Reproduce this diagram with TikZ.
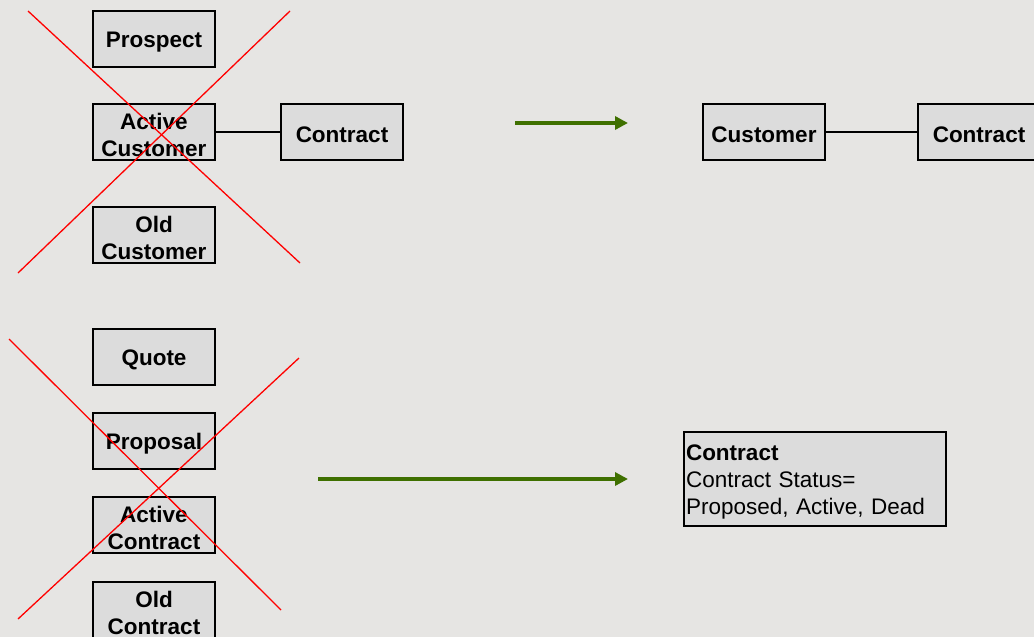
\documentclass[tikz,border=0pt]{standalone}
\usepackage{fontspec}
\setmainfont{Liberation Sans}
\usetikzlibrary{arrows.meta}
\definecolor{bg}{HTML}{E6E5E3}
\definecolor{boxfill}{HTML}{DCDCDC}
\definecolor{arrowgreen}{HTML}{3F7000}
\definecolor{crossred}{HTML}{FF0000}
\newcommand{\topstrut}{\rule{0pt}{22pt}}
\tikzset{
  entity/.style={draw=black, fill=boxfill, line width=1.2pt, minimum width=122pt,
    minimum height=56pt, inner sep=0pt, align=center,
    font=\fontsize{22.5}{27}\selectfont\bfseries},
  link/.style={draw=black, line width=1.3pt},
  shift arrow/.style={draw=arrowgreen, line width=4pt,
    -{Triangle[length=13pt,width=13pt]}},
  cross/.style={draw=crossred, line width=1.3pt}
}
\begin{document}
\begin{tikzpicture}[x=1pt,y=-1pt]
  \clip (0,0) rectangle (1034,637);
  \fill[bg] (0,0) rectangle (1034,637);

  % old customer model
  \node[entity] (prospect) at (154,39) {\topstrut Prospect};
  \node[entity] (actcust) at (154,132) {\topstrut Active\\Customer};
  \node[entity] (contract1) at (342,132) {\topstrut Contract};
  \node[entity] (oldcust) at (154,235) {\topstrut Old\\Customer};
  \draw[link] (actcust.east) -- (contract1.west);

  \coordinate (c1a) at (28,11);  \coordinate (c1b) at (300,263);
  \coordinate (c1c) at (290,11); \coordinate (c1d) at (18,273);
  \draw[cross] (c1a) -- (c1b);
  \draw[cross] (c1c) -- (c1d);

  % new customer model
  \coordinate (ar1s) at (515,123); \coordinate (ar1e) at (628,123);
  \draw[shift arrow] (ar1s) -- (ar1e);
  \node[entity] (customer) at (764,132) {\topstrut Customer};
  \node[entity] (contract2) at (979,132) {\topstrut Contract};
  \draw[link] (customer.east) -- (contract2.west);

  % old contract model
  \node[entity] (quote) at (154,357) {\topstrut Quote};
  \node[entity] (proposal) at (154,441) {\topstrut Proposal};
  \node[entity] (actcon) at (154,525) {\topstrut Active\\Contract};
  \node[entity] (oldcon) at (154,610) {\topstrut Old\\Contract};

  \coordinate (c2a) at (9,339);   \coordinate (c2b) at (281,610);
  \coordinate (c2c) at (299,358); \coordinate (c2d) at (18,619);
  \draw[cross] (c2a) -- (c2b);
  \draw[cross] (c2c) -- (c2d);

  % new contract model
  \coordinate (ar2s) at (318,479); \coordinate (ar2e) at (628,479);
  \draw[shift arrow] (ar2s) -- (ar2e);
  \node[draw=black, fill=boxfill, line width=1.2pt, minimum width=262pt,
    minimum height=94pt, inner sep=2pt, align=left, text width=258pt,
    font=\fontsize{22.5}{27}\selectfont] (contract3) at (815,479)
    {\topstrut\textbf{Contract}\\Contract Status=\\Proposed, Active, Dead};
\end{tikzpicture}
\end{document}
